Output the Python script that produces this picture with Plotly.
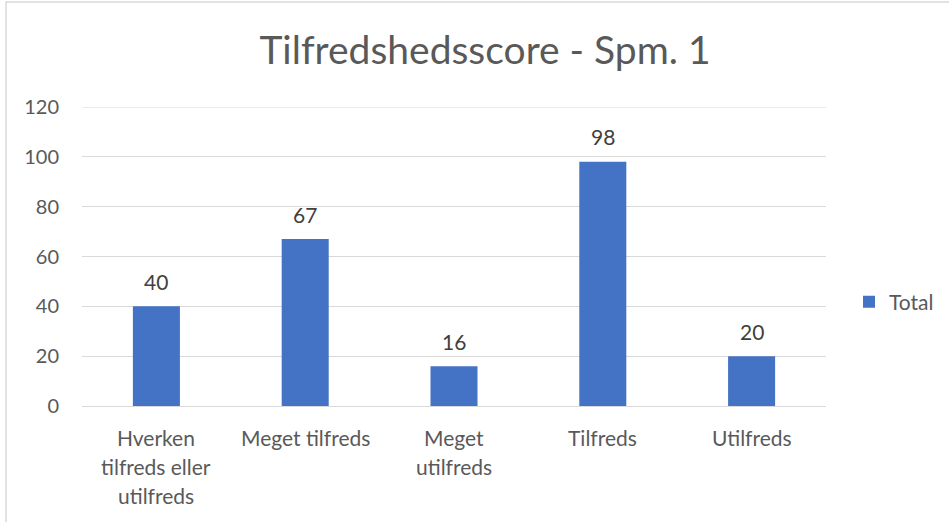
import plotly.graph_objects as go

categories = ["Hverken<br>tilfreds eller<br>utilfreds", "Meget tilfreds", "Meget<br>utilfreds", "Tilfreds", "Utilfreds"]
values = [40, 67, 16, 98, 20]
series_name = "Total"
title_text = "Tilfredshedsscore - Spm. 1"
y_ticks = [0, 20, 40, 60, 80, 100, 120]

FONT = "Lato, Carlito, Calibri, sans-serif"
GRAY = "#595959"
GRID = "#d9d9d9"

L, R, T, B = 82, 826, 107, 406
W, H = 949, 522

def px_x(p):
    return (p - L) / (R - L)

def px_y(p):
    return (B - p) / (B - T)

fig = go.Figure()
fig.add_trace(go.Bar(
    x=categories, y=values, name=series_name,
    marker=dict(color="#4472c4", line=dict(width=0)),
    showlegend=True,
))

# data labels above bars
for c, v in zip(categories, values):
    fig.add_annotation(x=c, y=v, xref="x", yref="y", text=str(v), showarrow=False,
                       yanchor="middle", yshift=25,
                       font=dict(family=FONT, size=21, color="#404040"))

# category labels, line by line (Excel-like line spacing)
for c in categories:
    for i, line in enumerate(c.split("<br>")):
        fig.add_annotation(x=c, y=px_y(437 + 29 * i), xref="x", yref="paper", text=line,
                           showarrow=False, yanchor="middle", xanchor="center",
                           font=dict(family=FONT, size=21, color=GRAY))

fig.update_layout(
    width=W, height=H,
    margin=dict(l=L, r=W - R, t=T, b=H - B, autoexpand=False),
    paper_bgcolor="white", plot_bgcolor="white",
    bargap=0.684,
    title=dict(text=title_text, x=485 / W, xanchor="center", y=1 - 50 / H, yanchor="middle",
               xref="container", yref="container",
               font=dict(family=FONT, size=39, color=GRAY)),
    legend=dict(x=px_x(849), y=px_y(302), xanchor="left", yanchor="middle",
                font=dict(family=FONT, size=21, color=GRAY),
                itemwidth=30, bgcolor="rgba(0,0,0,0)"),
    font=dict(family=FONT, color=GRAY),
    showlegend=True,
)
fig.update_yaxes(range=[y_ticks[0], y_ticks[-1]], tickvals=y_ticks, showgrid=True, gridcolor=GRID, gridwidth=1,
                 zeroline=True, zerolinecolor=GRID, zerolinewidth=1,
                 tickfont=dict(family=FONT, size=20, color=GRAY), ticks="", ticklabelstandoff=22,
                 fixedrange=True)
fig.update_xaxes(showline=False, ticks="", showticklabels=False, fixedrange=True)

# top gridline (plotly drops the gridline sitting on the plot edge)
fig.add_shape(type="line", xref="paper", yref="y", x0=0, x1=1, y0=y_ticks[-1], y1=y_ticks[-1],
              line=dict(color=GRID, width=1), layer="below")

fig.add_shape(type="rect", xref="paper", yref="paper",
              x0=px_x(6), x1=px_x(990), y0=px_y(560), y1=px_y(2),
              line=dict(color=GRID, width=1.5), fillcolor="rgba(0,0,0,0)", layer="below")

fig.write_html("out.html", config={"displayModeBar": False},
               post_script="document.body.style.margin='0';document.body.style.overflow='hidden';")
